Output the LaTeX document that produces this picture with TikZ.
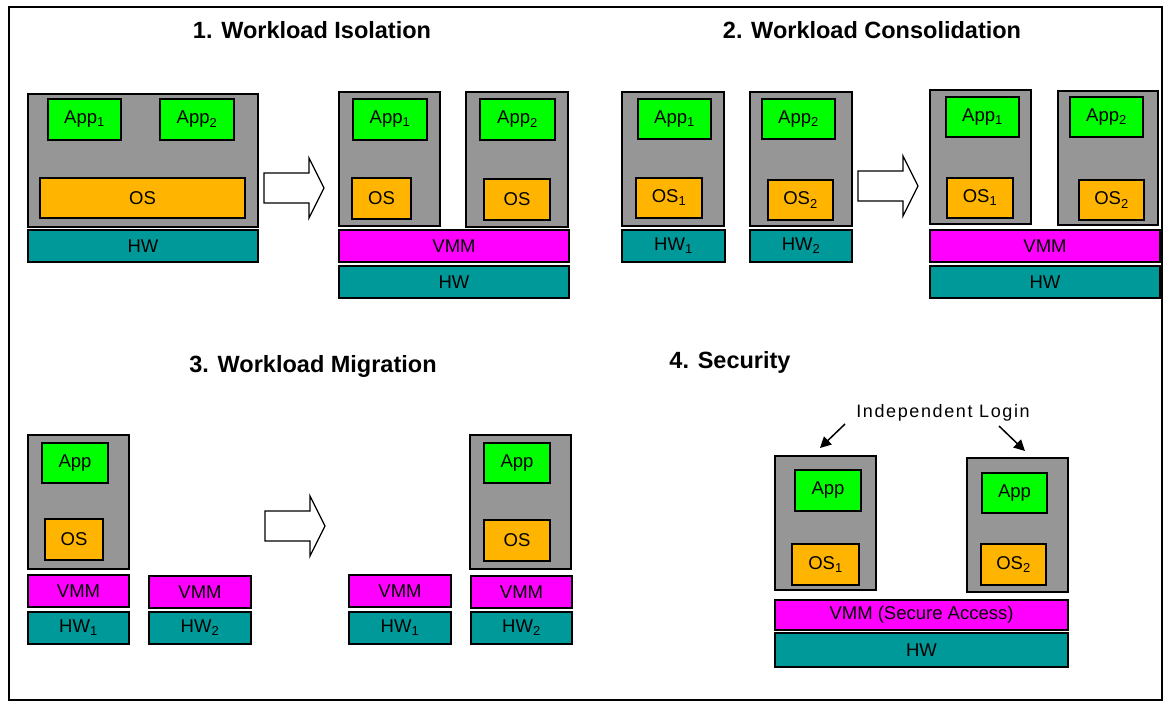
\documentclass[tikz,border=0pt]{standalone}
\usepackage{fontspec}
\setmainfont{Liberation Sans}
\newfontfamily\loginfont[LetterSpace=9]{Liberation Sans}
\usetikzlibrary{arrows.meta}

\definecolor{vmgray}{RGB}{150,150,150}
\definecolor{appgreen}{RGB}{0,255,0}
\definecolor{osorange}{RGB}{255,180,0}
\definecolor{hwteal}{RGB}{0,153,153}
\definecolor{vmmmag}{RGB}{255,0,255}

% a layer box given by its corners (x1,y1) and (x2,y2), y counted downwards
\newcommand{\layer}[7]{%
  \node[#1, minimum width={(#5-#3)*1pt}, minimum height={(#6-#4)*1pt}]
    (#2) at ({(#3+#5)/2},{(#4+#6)/2}) {#7};}

% hollow block arrow: left end x, centre line y
\newcommand{\blockarrow}[2]{%
  \draw[barrow] (#1,#2-15) -- ++(45,0) -- ++(0,-15) -- (#1+60,#2)
    -- (#1+45,#2+30) -- ++(0,-15) -- (#1,#2+15) -- cycle;}

\tikzset{
  box/.style={draw=black, line width=2pt, inner sep=0pt, outer sep=0pt,
    font=\fontsize{18.5}{21}\selectfont},
  vm/.style={box, fill=vmgray},
  app/.style={box, fill=appgreen},
  os/.style={box, fill=osorange},
  hw/.style={box, fill=hwteal},
  vmm/.style={box, fill=vmmmag},
  barrow/.style={draw=black, line width=1.3pt, fill=white, line join=miter},
  title/.style={font=\fontsize{23.5}{26}\selectfont\bfseries, inner sep=0pt},
  login/.style={-{Triangle[length=11pt,width=11pt]}, line width=1.5pt},
}

\begin{document}
\begin{tikzpicture}[x=1pt, y=-1pt]
\useasboundingbox (0,0) rectangle (1166,702);
\fill[white] (0,0) rectangle (1166,702);
\draw[line width=2pt] (9,7) rectangle (1162,700);

% ---------- 1. Workload Isolation ----------
\node[title] (t1) at (312,30) {1. Workload Isolation};
\layer{vm}{a-vm}{28}{94}{258}{227}{}
\layer{app}{a-app1}{48}{99}{121}{140}{App\textsubscript{1}}
\layer{app}{a-app2}{160}{99}{234}{140}{App\textsubscript{2}}
\layer{os}{a-os}{40}{178}{245}{218}{OS}
\layer{hw}{a-hw}{28}{230}{258}{262}{HW}
\blockarrow{264}{188}
\layer{vm}{b-vm1}{339}{92}{440}{226}{}
\layer{app}{b-app1}{353}{99}{427}{140}{App\textsubscript{1}}
\layer{os}{b-os1}{352}{178}{411}{219}{OS}
\layer{vm}{b-vm2}{466}{92}{568}{227}{}
\layer{app}{b-app2}{480}{99}{555}{140}{App\textsubscript{2}}
\layer{os}{b-os2}{484}{179}{550}{220}{OS}
\layer{vmm}{b-vmm}{339}{230}{569}{262}{VMM}
\layer{hw}{b-hw}{339}{266}{569}{298}{HW}

% ---------- 2. Workload Consolidation ----------
\node[title] (t2) at (872,30) {2. Workload Consolidation};
\layer{vm}{c-vm1}{622}{92}{724}{226}{}
\layer{app}{c-app1}{638}{99}{711}{139}{App\textsubscript{1}}
\layer{os}{c-os1}{636}{178}{702}{218}{OS\textsubscript{1}}
\layer{vm}{c-vm2}{750}{92}{852}{226}{}
\layer{app}{c-app2}{762}{99}{835}{139}{App\textsubscript{2}}
\layer{os}{c-os2}{768}{180}{833}{220}{OS\textsubscript{2}}
\layer{hw}{c-hw1}{622}{230}{725}{262}{HW\textsubscript{1}}
\layer{hw}{c-hw2}{750}{230}{852}{262}{HW\textsubscript{2}}
\blockarrow{858}{186}
\layer{vm}{d-vm1}{930}{90}{1031}{224}{}
\layer{app}{d-app1}{946}{97}{1019}{137}{App\textsubscript{1}}
\layer{os}{d-os1}{947}{178}{1013}{218}{OS\textsubscript{1}}
\layer{vm}{d-vm2}{1058}{91}{1158}{225}{}
\layer{app}{d-app2}{1070}{97}{1143}{137}{App\textsubscript{2}}
\layer{os}{d-os2}{1079}{180}{1144}{220}{OS\textsubscript{2}}
\layer{vmm}{d-vmm}{930}{230}{1160}{262}{VMM}
\layer{hw}{d-hw}{930}{266}{1160}{298}{HW}

% ---------- 3. Workload Migration ----------
\node[title] (t3) at (313,366) {3. Workload Migration};
\layer{vm}{e-vm}{28}{435}{129}{569}{}
\layer{app}{e-app}{42}{443}{108}{483}{App}
\layer{os}{e-os}{45}{519}{103}{560}{OS}
\layer{vmm}{e-vmm1}{28}{575}{129}{607}{VMM}
\layer{hw}{e-hw1}{28}{612}{129}{644}{HW\textsubscript{1}}
\layer{vmm}{e-vmm2}{149}{576}{251}{608}{VMM}
\layer{hw}{e-hw2}{149}{612}{251}{644}{HW\textsubscript{2}}
\blockarrow{265}{526}
\layer{vmm}{f-vmm1}{349}{575}{451}{607}{VMM}
\layer{hw}{f-hw1}{349}{612}{451}{644}{HW\textsubscript{1}}
\layer{vm}{f-vm}{470}{435}{571}{569}{}
\layer{app}{f-app}{484}{443}{550}{483}{App}
\layer{os}{f-os}{484}{520}{550}{561}{OS}
\layer{vmm}{f-vmm2}{471}{576}{572}{608}{VMM}
\layer{hw}{f-hw2}{471}{612}{572}{644}{HW\textsubscript{2}}

% ---------- 4. Security ----------
\node[title] (t4) at (730,362) {4. Security};
\node[font=\fontsize{18}{20}\loginfont, inner sep=0pt] (lg) at (943,413) {Independent Login};
\coordinate (lg-l) at (845,424);
\coordinate (lg-r) at (999,426);
\layer{vm}{g-vm1}{775}{456}{876}{590}{}
\layer{app}{g-app1}{795}{470}{861}{511}{App}
\layer{os}{g-os1}{792}{544}{859}{585}{OS\textsubscript{1}}
\layer{vm}{g-vm2}{967}{458}{1068}{592}{}
\layer{app}{g-app2}{982}{473}{1047}{513}{App}
\layer{os}{g-os2}{981}{544}{1046}{585}{OS\textsubscript{2}}
\layer{vmm}{g-vmm}{775}{600}{1068}{630}{VMM (Secure Access)}
\layer{hw}{g-hw}{775}{633}{1068}{667}{HW}
\coordinate (g-tip1) at (820,448);
\coordinate (g-tip2) at (1025,451);
\draw[login] (lg-l) -- (g-tip1);
\draw[login] (lg-r) -- (g-tip2);
\end{tikzpicture}
\end{document}
